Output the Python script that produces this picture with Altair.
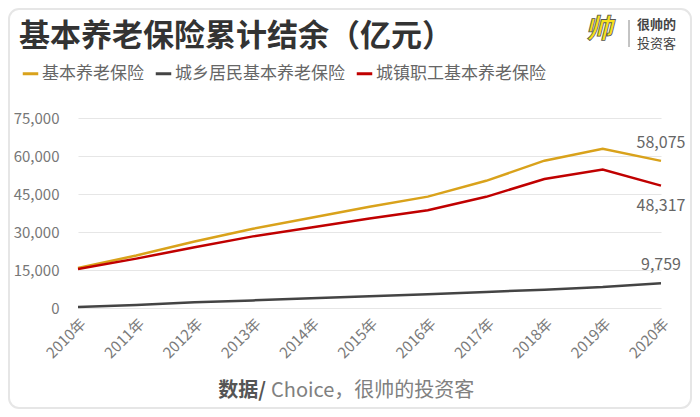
import altair as alt
import pandas as pd

FONT = "Noto Sans CJK SC"

years = ["2010年", "2011年", "2012年", "2013年", "2014年", "2015年",
         "2016年", "2017年", "2018年", "2019年", "2020年"]
series_names = ["基本养老保险", "城乡居民基本养老保险", "城镇职工基本养老保险"]
total = [15788, 20727, 26243, 31275, 35645, 39937, 43965, 50202, 58152, 62873, 58075]
rural = [423, 1199, 2302, 3006, 3845, 4592, 5385, 6318, 7250, 8249, 9759]
urban = [15365, 19497, 23941, 28269, 31800, 35345, 38580, 43885, 50901, 54623, 48317]
colors = ["#D9A21B", "#444444", "#C00000"]
y_ticks = [0, 15000, 30000, 45000, 60000, 75000]

end_labels = ["58,075", "9,759", "48,317"]
end_values = [58075, 9759, 48317]
end_dy = [-18, -18, 20]

rows = []
for name, vals in zip(series_names, [total, rural, urban]):
    for yr, v in zip(years, vals):
        rows.append({"year": yr, "series": name, "value": v})
df = pd.DataFrame(rows)

W, H = 583, 190

xenc = alt.X("year:O", sort=years, title=None,
             scale=alt.Scale(type="point", padding=0),
             axis=alt.Axis(labelAngle=-45, labelFontSize=15, labelColor="#7a7a7a",
                           labelFont=FONT, domain=False, ticks=False, labelPadding=8,
                           grid=False, labelOverlap=False))
yenc = alt.Y("value:Q", title=None,
             scale=alt.Scale(domain=[0, 75000], nice=False),
             axis=alt.Axis(values=y_ticks,
                           labelExpr="datum.value == 0 ? '0' : floor(datum.value / 1000) + ',000'",
                           labelFontSize=15,
                           labelColor="#777777", labelFont=FONT, domain=False,
                           ticks=False, labelPadding=19, gridColor="#e6e6e6",
                           gridWidth=1.2, labelOverlap=False))

card = alt.Chart(pd.DataFrame({"a": [0]})).mark_rect(
    fillOpacity=0, cornerRadius=10, stroke="#e6e6e6", strokeWidth=2
).encode(x=alt.value(-69), x2=alt.value(W + 30), y=alt.value(-109), y2=alt.value(H + 100))

lines = alt.Chart(df).mark_line(strokeWidth=2.5).encode(
    x=xenc, y=yenc,
    color=alt.Color("series:N", sort=series_names,
                    scale=alt.Scale(domain=series_names, range=colors),
                    legend=alt.Legend(orient="none", legendX=-57, legendY=-54,
                                      direction="horizontal", title=None,
                                      symbolType="stroke", symbolStrokeWidth=3,
                                      symbolSize=240, labelFontSize=17,
                                      labelFont=FONT, labelColor="#666666",
                                      labelOffset=2, columnPadding=5,
                                      labelLimit=400, symbolOffset=0)),
)

lab_df = pd.DataFrame({"year": ["2020年"] * 3, "value": end_values,
                       "label": end_labels, "dy": end_dy})
end_text = []
for i in range(3):
    end_text.append(
        alt.Chart(lab_df.iloc[[i]]).mark_text(
            fontSize=16, font=FONT, color="#666666", dy=end_dy[i], align="center"
        ).encode(x=xenc, y=yenc, text="label:N")
    )

title = alt.Chart(pd.DataFrame({"t": ["基本养老保险累计结余（亿元）"]})).mark_text(
    fontSize=31, fontWeight="bold", font=FONT, color="#333333", align="left",
    baseline="middle"
).encode(x=alt.value(-59), y=alt.value(-81), text="t:N")

foot1 = alt.Chart(pd.DataFrame({"t": ["数据/"]})).mark_text(
    fontSize=20, fontWeight="bold", font=FONT, color="#555555", align="right",
    baseline="middle"
).encode(x=alt.value(188), y=alt.value(273), text="t:N")
foot2 = alt.Chart(pd.DataFrame({"t": ["Choice，很帅的投资客"]})).mark_text(
    fontSize=20, font=FONT, color="#808080", align="left", baseline="middle"
).encode(x=alt.value(193), y=alt.value(273), text="t:N")

logo = alt.Chart(pd.DataFrame({"t": ["帅"]})).mark_text(
    fontSize=27, fontWeight="bold", fontStyle="italic", font=FONT, color="#F7E21B",
    stroke="#555555", strokeWidth=0.8, align="center", baseline="middle"
).encode(x=alt.value(521), y=alt.value(-88), text="t:N")
sep = alt.Chart(pd.DataFrame({"a": [0]})).mark_rule(color="#888888", strokeWidth=1).encode(
    x=alt.value(551), y=alt.value(-98), y2=alt.value(-71))
logo1 = alt.Chart(pd.DataFrame({"t": ["很帅的"]})).mark_text(
    fontSize=13, fontWeight="bold", font=FONT, color="#444444", align="left",
    baseline="middle"
).encode(x=alt.value(559), y=alt.value(-93), text="t:N")
logo2 = alt.Chart(pd.DataFrame({"t": ["投资客"]})).mark_text(
    fontSize=13, font=FONT, color="#444444", align="left", baseline="middle"
).encode(x=alt.value(559), y=alt.value(-74), text="t:N")

chart = alt.layer(card, lines, *end_text, title, foot1, foot2, logo, sep, logo1, logo2).properties(
    width=W, height=H,
    autosize=alt.AutoSizeParams(type="none"),
    padding={"left": 70, "top": 110, "right": 31, "bottom": 101},
    background="white",
).configure_view(stroke=None)

chart.save("out.html", embed_options={"renderer": "svg", "actions": False})
